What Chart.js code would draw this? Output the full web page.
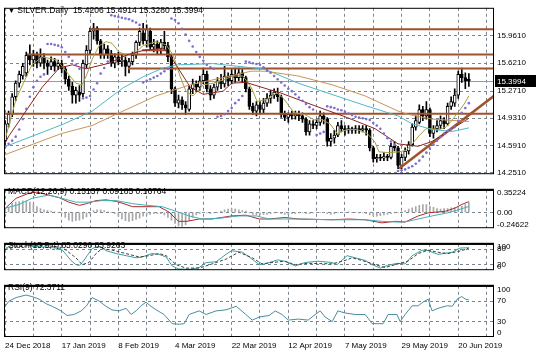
<!DOCTYPE html>
<html><head><meta charset="utf-8">
<script src="https://cdn.jsdelivr.net/npm/chart.js@4.4.1/dist/chart.umd.min.js"></script>
<style>
html,body{margin:0;padding:0;background:#fff;}
#wrap{position:relative;width:536px;height:358px;overflow:hidden;background:#fff;}
canvas{position:absolute;left:0;}
.t{position:absolute;left:8px;font:8.5px "Liberation Sans",Arial,sans-serif;color:#000;white-space:pre;line-height:10px;}
.tri{font-size:7px;}
</style></head><body>
<div id="wrap">
<canvas id="c1" width="536" height="182" style="top:0"></canvas>
<canvas id="c2" width="536" height="54" style="top:182px"></canvas>
<canvas id="c3" width="536" height="42" style="top:236px"></canvas>
<canvas id="c4" width="536" height="80" style="top:278px"></canvas>
<div class="t" id="t1" style="top:5px"></div>
<div class="t" id="t2" style="top:186px"></div>
<div class="t" id="t3" style="top:240px"></div>
<div class="t" id="t4" style="top:282px"></div>
</div>
<script>
// ---------- DATA ----------
const dateLabels = ['24 Dec 2018','17 Jan 2019','8 Feb 2019','4 Mar 2019','22 Mar 2019','12 Apr 2019','7 May 2019','29 May 2019','20 Jun 2019'];
const labelBars = [0,16,32,48,64,80,96,112,128];
const gridBars = [0,8,16,24,32,40,48,56,64,72,80,88,96,104,112,120,128,136];
const priceTicks = [15.961,15.621,15.271,14.931,14.591,14.251];

const opens = [14.65,14.86,14.98,15.20,15.37,15.46,15.50,15.72,15.66,15.72,
15.62,15.70,15.62,15.58,15.64,15.58,15.62,15.55,15.42,15.33,
15.22,15.26,15.24,15.60,15.78,16.02,16.06,15.90,15.72,15.80,
15.74,15.62,15.70,15.64,15.66,15.58,15.64,15.72,15.88,16.00,
15.90,16.02,15.82,15.86,15.80,15.88,15.84,15.70,15.30,15.12,
15.16,15.10,15.04,15.30,15.36,15.32,15.40,15.48,15.30,15.22,
15.32,15.40,15.36,15.46,15.40,15.48,15.44,15.50,15.44,15.30,
15.08,15.02,15.10,15.04,15.12,15.18,15.22,15.24,15.20,14.98,
14.94,14.98,14.96,14.98,14.96,14.92,14.76,14.86,14.84,14.88,
14.96,14.92,14.64,14.68,14.72,14.84,14.80,14.78,14.80,14.78,
14.80,14.78,14.80,14.78,14.56,14.42,14.44,14.43,14.45,14.44,
14.58,14.56,14.34,14.44,14.52,14.60,14.82,14.88,15.04,14.96,
15.04,14.74,14.80,14.84,14.90,14.86,15.08,15.12,15.22,15.48,
15.44,15.4206];
const highs = [14.90,15.02,15.24,15.40,15.52,15.62,15.76,15.85,15.78,15.76,
15.80,15.74,15.66,15.70,15.68,15.66,15.66,15.58,15.46,15.38,
15.32,15.34,15.66,15.84,16.06,16.12,16.08,15.92,15.86,15.84,
15.78,15.74,15.76,15.72,15.70,15.68,15.76,15.90,16.06,16.12,
16.10,16.06,15.92,15.90,15.92,16.02,15.88,15.72,15.32,15.22,
15.20,15.14,15.34,15.42,15.40,15.46,15.56,15.52,15.34,15.36,
15.44,15.48,15.58,15.50,15.54,15.56,15.56,15.54,15.46,15.32,
15.12,15.14,15.14,15.18,15.24,15.28,15.30,15.31,15.22,15.02,
15.00,15.02,15.02,15.02,15.00,14.94,14.90,14.90,14.92,15.02,
15.00,14.94,14.74,14.78,14.88,14.90,14.84,14.84,14.82,14.84,
14.84,14.84,14.84,14.80,14.58,14.48,14.48,14.50,14.48,14.62,
14.64,14.58,14.48,14.56,14.64,14.86,14.96,15.10,15.08,15.14,
15.06,14.84,14.90,14.96,14.94,15.12,15.20,15.30,15.52,15.56,
15.50,15.4914];
const lows = [14.60,14.82,14.95,15.15,15.32,15.42,15.45,15.60,15.58,15.56,
15.58,15.55,15.48,15.54,15.52,15.54,15.50,15.36,15.28,15.12,
15.12,15.14,15.20,15.56,15.74,15.92,15.86,15.68,15.68,15.68,
15.58,15.56,15.60,15.58,15.46,15.50,15.60,15.68,15.84,15.86,
15.82,15.78,15.76,15.74,15.74,15.78,15.64,15.24,15.08,15.06,
15.04,14.98,15.02,15.24,15.26,15.28,15.36,15.26,15.16,15.18,
15.28,15.30,15.32,15.34,15.36,15.38,15.40,15.38,15.26,15.04,
14.98,14.96,14.98,15.00,15.08,15.12,15.18,15.14,14.94,14.90,
14.88,14.92,14.92,14.90,14.88,14.72,14.72,14.80,14.80,14.84,
14.86,14.58,14.58,14.62,14.70,14.76,14.72,14.74,14.74,14.74,
14.74,14.76,14.72,14.52,14.38,14.38,14.40,14.40,14.40,14.42,
14.52,14.30,14.30,14.40,14.48,14.58,14.78,14.86,14.90,14.92,
14.70,14.68,14.76,14.80,14.80,14.84,15.04,15.08,15.18,15.38,
15.30,15.328];
const closes = [14.86,14.98,15.20,15.37,15.48,15.58,15.72,15.66,15.72,15.62,
15.70,15.62,15.58,15.64,15.58,15.62,15.55,15.42,15.33,15.22,
15.28,15.22,15.62,15.78,16.02,16.06,15.90,15.72,15.80,15.74,
15.62,15.70,15.64,15.66,15.58,15.64,15.72,15.88,16.02,15.90,
16.04,15.82,15.86,15.80,15.88,15.84,15.70,15.30,15.12,15.16,
15.10,15.06,15.30,15.36,15.32,15.40,15.48,15.30,15.22,15.32,
15.40,15.36,15.46,15.40,15.48,15.44,15.50,15.44,15.30,15.08,
15.02,15.10,15.04,15.12,15.18,15.22,15.26,15.20,14.98,14.94,
14.98,14.96,14.98,14.96,14.92,14.76,14.86,14.84,14.88,14.96,
14.92,14.64,14.68,14.72,14.84,14.80,14.78,14.80,14.78,14.80,
14.78,14.80,14.78,14.56,14.42,14.44,14.43,14.45,14.44,14.58,
14.56,14.34,14.44,14.52,14.60,14.82,14.90,15.04,14.96,15.04,
14.74,14.80,14.84,14.90,14.86,15.08,15.14,15.22,15.48,15.44,
15.40,15.3994];
const sar = [14.57,14.61,14.65,14.70,14.79,14.92,15.05,15.20,15.32,15.40,
15.45,15.48,15.86,15.86,15.85,15.84,15.82,15.76,15.70,15.65,
15.60,15.55,15.18,15.19,15.21,15.29,15.37,15.49,15.56,15.64,
16.22,16.21,16.20,16.19,16.18,16.17,16.15,16.13,16.10,15.38,
15.40,15.42,15.44,15.46,15.49,15.52,15.55,16.18,16.16,16.12,
16.05,15.98,15.90,15.83,15.76,15.70,15.65,15.60,15.57,15.55,
14.95,14.96,14.98,15.02,15.06,15.12,15.16,15.21,15.64,15.63,
15.62,15.61,15.60,15.57,15.53,15.50,15.46,15.42,15.38,15.34,
15.30,15.27,15.23,15.19,15.15,15.11,15.07,15.04,14.72,14.74,
14.76,15.08,15.07,15.06,15.04,15.03,15.01,14.99,14.97,14.95,
14.94,14.93,14.92,14.91,14.87,14.84,14.80,14.74,14.68,14.64,
14.60,14.27,14.28,14.29,14.31,14.33,14.36,14.40,14.45,14.50,
14.55,14.60,14.65,14.70,14.74,14.77,14.79,14.82,14.90,15.00,
15.06,15.12];

// moving averages [bar, price]
const maFast = [[0.3,14.71],[3.1,15.17],[5.9,15.44],[7.6,15.60],[10.5,15.70],[14.7,15.66],[17.2,15.52],[20,15.37],[21.8,15.35],[23.2,15.49],[24.6,15.67],[26.6,15.84],[28.5,15.89],[30.2,15.87],[32.2,15.76],[34.5,15.72],[37,15.76],[39,15.84],[42.7,15.89],[45.5,15.85],[47.5,15.72],[49.4,15.46],[51.1,15.27],[53.1,15.21],[56,15.35],[58.8,15.37],[61.6,15.41],[64.4,15.46],[67.2,15.46],[69.5,15.32],[71.2,15.14],[74,15.17],[76.8,15.25],[78.8,15.17],[81.6,15.00],[84.5,14.98],[87.3,14.91],[89,14.92],[91.8,14.86],[93.8,14.74],[96.6,14.79],[99.4,14.79],[102.3,14.74],[104.5,14.63],[105.6,14.51],[108.5,14.50],[111.3,14.51],[113.3,14.53],[115,14.61],[116.9,14.71],[118.9,14.80],[120.6,14.80],[122.6,14.79],[124.6,14.82],[126.3,14.91],[128.2,15.02],[129.7,15.11],[131,15.21]];
const maMid = [[0,14.62],[1.1,14.71],[10.5,15.32],[15.3,15.56],[19,15.60],[22.9,15.55],[29.4,15.62],[34.2,15.72],[39,15.78],[44.6,15.81],[46.6,15.72],[49,15.55],[52.3,15.32],[56,15.23],[61.6,15.27],[64,15.37],[68,15.38],[74.6,15.29],[77.7,15.25],[87.3,15.09],[96.6,14.94],[104.5,14.80],[111,14.61],[116.7,14.58],[120.6,14.64],[126.3,14.80],[131,14.93]];
const maSlow = [[-0.3,14.57],[16.1,14.85],[24.6,15.02],[33.3,15.31],[39,15.45],[44.6,15.56],[49,15.60],[58.8,15.615],[73.4,15.545],[82.8,15.37],[101.7,15.09],[111,14.96],[115,14.86],[120.6,14.79],[126.3,14.765],[131,14.81]];
const maLong = [[-0.3,14.47],[16,14.74],[24.6,14.84],[33.3,15.02],[42.6,15.21],[52.3,15.35],[61.6,15.44],[69.5,15.52],[73.4,15.52],[82.8,15.46],[92.4,15.35],[101.7,15.21],[111,15.02],[113.8,14.98],[120.6,14.92],[131,14.89]];

// horizontal levels and trend line
const levelPrices = [16.046,15.728,15.555,14.987,15.782];
const levelFrom = [24,6.2,34.7,-0.3,38.7];
const levelTo = [140,140,140,140,45.5];
const trendLine = [[111.3,14.30],[140,15.275]];

// MACD
const macdHist = [0.05,0.08,0.14,0.16,0.17,0.18,0.18,0.16,0.13,0.09,
0.06,0.04,0.03,0.02,0.01,0.0,-0.02,-0.08,-0.12,-0.14,
-0.13,-0.12,-0.10,-0.07,-0.02,0.03,0.04,0.04,0.03,0.01,
0.0,-0.02,-0.06,-0.10,-0.13,-0.14,-0.13,-0.11,-0.09,-0.06,
-0.04,-0.03,-0.02,-0.02,-0.02,-0.04,-0.08,-0.12,-0.17,-0.21,
-0.22,-0.19,-0.13,-0.08,-0.04,-0.02,0.0,-0.01,-0.02,-0.01,
0.0,0.02,0.04,0.05,0.06,0.05,0.04,0.03,0.02,-0.01,
-0.03,-0.04,-0.04,-0.03,-0.03,-0.02,-0.01,0.0,-0.02,-0.03,
-0.03,-0.02,-0.02,-0.01,-0.01,-0.02,-0.02,-0.01,0.0,0.0,
0.0,-0.02,-0.03,-0.02,-0.01,0.0,0.0,0.01,0.0,0.0,
-0.01,-0.01,-0.02,-0.04,-0.06,-0.06,-0.05,-0.04,-0.03,-0.02,
-0.01,-0.01,0.01,0.03,0.05,0.07,0.09,0.11,0.12,0.12,
0.10,0.08,0.06,0.05,0.06,0.06,0.07,0.08,0.09,0.10,
0.12,0.15157];
const macdMain = [[0,0.06],[3.1,0.22],[6.8,0.30],[9,0.316],[11.6,0.28],[15.3,0.23],[18,0.16],[21,0.11],[23,0.136],[25.7,0.184],[28.5,0.196],[31.4,0.172],[34.2,0.124],[36,0.089],[38.7,0.089],[43.5,0.089],[46.3,0.005],[49,-0.139],[51.4,-0.139],[54.8,-0.103],[58.5,-0.103],[64,-0.055],[68,-0.043],[71.8,-0.103],[74.6,-0.103],[79,-0.079],[82.8,-0.103],[92.4,-0.115],[97,-0.103],[101.7,-0.115],[106.5,-0.163],[110.2,-0.139],[113,-0.151],[116.7,-0.055],[119.5,-0.007],[124.3,0.017],[127,0.065],[129,0.124],[131,0.16764]];
const macdSignal = [[0,0.065],[4,0.124],[7.6,0.22],[12.4,0.27],[16,0.22],[20,0.16],[23.7,0.16],[27.4,0.184],[31.4,0.184],[36,0.136],[39.8,0.112],[44.4,0.089],[48.3,0.017],[52,-0.055],[55.6,-0.103],[60.5,-0.091],[66,-0.055],[71,-0.055],[74.6,-0.103],[82.8,-0.103],[92.4,-0.115],[101.7,-0.115],[106.5,-0.139],[111,-0.151],[113.8,-0.139],[116.7,-0.103],[120.6,-0.055],[125,-0.007],[128,0.041],[131,0.09185]];
const macdTicks = [0.35224,0,-0.24622];
const macdTickText = ['0.35224','0.00','-0.24622'];

// Stochastic
const stochMain = [[0,82],[2,95],[6,97],[7.6,90],[11,88],[15.8,82],[17.2,60],[18.6,37],[20,21],[21,18],[21.8,29],[23.2,55],[24.6,82],[26,89],[27.4,87],[28.5,74],[31.4,63],[34.2,55],[37,47],[38.7,50],[41.5,63],[43.5,60],[45.5,50],[47.2,16],[49,5],[52,3],[54.8,10],[56.8,29],[59.6,32],[62.4,60],[64,74],[67,68],[69,50],[71.8,21],[73.4,24],[77,39],[79,34],[82,16],[84.7,29],[88.4,34],[92.4,29],[93.8,21],[96.6,55],[98.9,47],[101.7,37],[103.7,21],[106,8],[108,18],[110.7,26],[113,24],[115,55],[117.8,76],[119.5,74],[122.3,60],[126.3,68],[128.5,84],[131,85.029]];
const stochSignal = [[0,78],[3,88],[7,94],[12,93],[16,86],[17.2,76],[20,47],[21.8,21],[23.7,29],[25.7,63],[27.4,82],[30.2,76],[34.2,63],[37.9,50],[40.7,55],[43.5,63],[45.5,55],[48.3,21],[51.1,8],[54.8,8],[58.5,24],[62.4,42],[66,68],[69.8,47],[72.6,24],[75.4,29],[79,34],[82,21],[85.6,26],[92.4,24],[96,37],[98,47],[100.8,37],[104.5,21],[107.3,10],[111,24],[113.8,34],[116.7,63],[119.5,76],[122.3,68],[125.1,63],[129,74],[131,83.9263]];
const stochTicks = [100,80,20,0];
const stochTickText = ['100','80','20','0'];

// RSI
const rsi = [[0,60],[1.1,70],[3.1,77],[5.9,82],[7.6,79],[9.6,74],[11.6,65],[13.3,60],[15.8,51],[17.5,42],[19.5,44],[21.5,51],[22.9,60],[24.6,77],[26.6,70],[28.5,60],[30.2,53],[32.2,51],[34.2,56],[35.6,44],[37,51],[38.4,61],[39.8,68],[41.2,60],[42.7,53],[44.9,44],[47.2,26],[49.2,25],[50.6,26],[52,44],[54.8,51],[56.8,44],[59.6,51],[62.4,53],[65.3,60],[68,44],[69.8,33],[71.8,39],[74.6,42],[76.3,51],[78.2,44],[80,33],[82.8,35],[85.6,33],[87.6,44],[89,51],[90.4,39],[92.4,30],[94,51],[96,47],[98.9,44],[101.7,44],[103.7,26],[105.4,26],[106.8,26],[108.2,44],[110.7,44],[111.6,30],[113,44],[115,61],[116.7,61],[118,68],[119.5,74],[120.6,51],[122.3,56],[124.9,61],[126.3,60],[127.7,74],[129,79],[130,74],[131,72.3711]];
const rsiTicks = [100,70,30,0];
const rsiTickText = ['100','70','30','0'];

// ---------- RENDERING ----------
const FONT = "'Liberation Sans', Arial, sans-serif";
const GRID = '#7a8590';
const X_MIN = -0.3, X_MAX = 138.1;
const last = closes.length - 1;
const pts = a => a.map(p => ({x: p[0], y: p[1]}));

function xScale(show) {
  return {
    type: 'linear', min: X_MIN, max: X_MAX, bounds: 'data', offset: false,
    afterBuildTicks: s => { s.ticks = gridBars.map(v => ({value: v})); },
    ticks: { display: show, autoSkip: false, maxRotation: 0, minRotation: 0, align: 'start', padding: 4, color: '#000',
      font: {size: 8, family: FONT},
      callback: v => { const k = labelBars.indexOf(v); return k >= 0 ? dateLabels[k] : ''; } },
    grid: { color: GRID, lineWidth: 1, drawTicks: false, offset: false },
    border: { display: false, dash: [3, 3] },
    afterFit: s => { s.height = show ? 21 : 0; }
  };
}
function indAxis(min, max, levels, texts, dashed, areaH) {
  return {
    position: 'right', min, max, bounds: 'data', beginAtZero: false,
    afterBuildTicks: s => {
      const u = (max - min) / areaH;
      s.ticks = levels.map(v => ({ value: v === max ? v - 4.5 * u : (v === min ? v + 4.5 * u : v) }));
    },
    ticks: { autoSkip: false, padding: 3, color: '#000', font: {size: 8, family: FONT}, callback: (v, i) => texts[i] },
    grid: { drawTicks: false, color: c => dashed.includes(levels[c.index]) ? GRID : 'rgba(0,0,0,0)' },
    border: { display: false, dash: [3, 3] },
    afterFit: s => { s.width = 42; }
  };
}
const frame = (thickTop) => ({
  id: 'frame',
  afterDraw(chart) {
    const {ctx, chartArea: a} = chart;
    ctx.save(); ctx.strokeStyle = '#000'; ctx.lineWidth = 1;
    ctx.strokeRect(a.left + 0.5, a.top + 0.5, a.right - a.left - 1, a.bottom - a.top - 1);
    if (thickTop) { ctx.fillStyle = '#000'; ctx.fillRect(a.left, a.top - 1, a.right - a.left, 2); }
    ctx.restore();
  }
});
const bidPlugin = {
  id: 'bid',
  beforeDatasetsDraw(chart) {
    const {ctx, chartArea: a} = chart;
    const y = Math.round(chart.scales.y.getPixelForValue(closes[last])) + 0.5;
    ctx.save(); ctx.strokeStyle = '#9a9a9a'; ctx.lineWidth = 1;
    ctx.beginPath(); ctx.moveTo(a.left, y); ctx.lineTo(a.right, y); ctx.stroke(); ctx.restore();
  },
  afterDraw(chart) {
    const {ctx, chartArea: a} = chart;
    const y = Math.round(chart.scales.y.getPixelForValue(closes[last]));
    ctx.save(); ctx.fillStyle = '#000'; ctx.fillRect(a.right + 1, y - 6, 42, 12);
    ctx.fillStyle = '#fff'; ctx.font = '8px ' + FONT; ctx.textBaseline = 'middle'; ctx.textAlign = 'left';
    ctx.fillText(closes[last].toFixed(4), a.right + 3, y + 0.5); ctx.restore();
  }
};
const common = (padding, scales, plugins) => ({
  responsive: false, animation: false, devicePixelRatio: 1, events: [],
  layout: { padding },
  plugins: { legend: {display: false}, tooltip: {enabled: false} },
  scales
});
const lineDs = (data, color, width, extra) => Object.assign({
  type: 'line', data: pts(data), borderColor: color, borderWidth: width, pointRadius: 0, tension: 0, fill: false, order: 1
}, extra || {});

const idx = closes.map((_, i) => i);
const mainDatasets = [
  { type: 'bar', data: idx.map(i => ({x: i, y: [lows[i], highs[i]]})), backgroundColor: '#000', barThickness: 1, grouped: false, order: 20 },
  { type: 'bar', data: idx.map(i => ({x: i, y: [opens[i], closes[i]]})),
    backgroundColor: c => closes[c.dataIndex] >= opens[c.dataIndex] ? '#fff' : '#000',
    borderColor: '#000', borderWidth: 1, borderSkipped: false, barThickness: 3, minBarLength: 1, grouped: false, order: 19 },
  lineDs(maLong, '#c8955a', 1),
  lineDs(maSlow, '#4fb8c8', 1),
  lineDs(maMid, '#8e2222', 1),
  lineDs(maFast, '#a6a040', 1),
  ...levelPrices.map((p, k) => lineDs([[levelFrom[k], p], [levelTo[k], p]], '#a0522d', 2)),
  lineDs(trendLine, '#a0522d', 2.5),
  { type: 'line', showLine: false, data: idx.map(i => ({x: i, y: sar[i]})), pointRadius: 1.3, pointBorderWidth: 0,
    pointBackgroundColor: '#7a6fd0', order: 0 }
];

new Chart(document.getElementById('c1'), {
  type: 'bar', data: { datasets: mainDatasets },
  options: common({left: 4, right: 0, top: 2, bottom: 1}, {
    x: xScale(false),
    y: { position: 'right', min: 14.230, max: 16.314, bounds: 'data', beginAtZero: false,
      afterBuildTicks: s => { s.ticks = priceTicks.map(v => ({value: v})); },
      ticks: { autoSkip: false, padding: 3, color: '#000', font: {size: 8, family: FONT}, callback: v => v.toFixed(4) },
      grid: { color: GRID, drawTicks: false }, border: { display: false, dash: [3, 3] },
      afterFit: s => { s.width = 42; } }
  }),
  plugins: [bidPlugin, frame(false)]
});

new Chart(document.getElementById('c2'), {
  type: 'bar', data: { datasets: [
    { type: 'bar', data: idx.map(i => ({x: i, y: macdHist[i]})), backgroundColor: '#a8a8a8', barThickness: 1, grouped: false, order: 10 },
    lineDs(macdSignal, '#3fb0b8', 1),
    lineDs(macdMain, '#b02828', 1)
  ]},
  options: common({left: 4, right: 0, top: 2, bottom: 2}, {
    x: xScale(false),
    y: indAxis(-0.24622, 0.35224, macdTicks, macdTickText, [0], 50)
  }),
  plugins: [frame(true)]
});

new Chart(document.getElementById('c3'), {
  type: 'line', data: { datasets: [
    lineDs(stochSignal, '#404040', 1, {borderDash: [3, 2]}),
    lineDs(stochMain, '#3a9ea0', 1)
  ]},
  options: common({left: 4, right: 0, top: 2, bottom: 2}, {
    x: xScale(false),
    y: indAxis(0, 100, stochTicks, stochTickText, [80, 20], 38)
  }),
  plugins: [frame(true)]
});

new Chart(document.getElementById('c4'), {
  type: 'line', data: { datasets: [ lineDs(rsi, '#4a8ca0', 1) ]},
  options: common({left: 4, right: 0, top: 2, bottom: 0}, {
    x: xScale(true),
    y: indAxis(0, 100, rsiTicks, rsiTickText, [70, 30], 57)
  }),
  plugins: [frame(true)]
});

// titles
document.getElementById('t1').innerHTML = '<span class="tri">\u25BC</span> SILVER.Daily  ' +
  [opens[last], highs[last], lows[last], closes[last]].map(v => v.toFixed(4)).join(' ');
document.getElementById('t2').textContent = 'MACD(12,26,9) ' + macdHist[last].toFixed(5) + ' ' +
  macdSignal[macdSignal.length - 1][1].toFixed(5) + ' ' + macdMain[macdMain.length - 1][1].toFixed(5);
document.getElementById('t3').textContent = 'Stoch(15,5,4) ' + stochMain[stochMain.length - 1][1].toFixed(4) + ' ' +
  stochSignal[stochSignal.length - 1][1].toFixed(4);
document.getElementById('t4').textContent = 'RSI(9) ' + rsi[rsi.length - 1][1].toFixed(4);
</script>
</body></html>
